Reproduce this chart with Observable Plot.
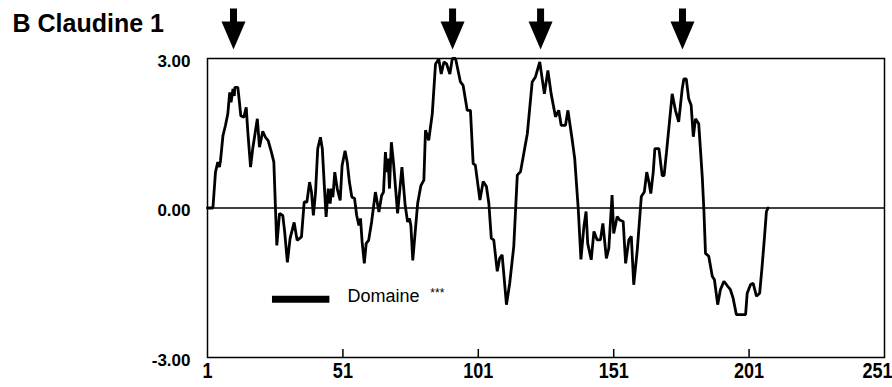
<!DOCTYPE html>
<html>
<head>
<meta charset="utf-8">
<script src="https://cdn.jsdelivr.net/npm/d3@7"></script>
<script src="https://cdn.jsdelivr.net/npm/@observablehq/plot@0.6"></script>
<style>
  html, body { margin: 0; padding: 0; background: white; }
</style>
</head>
<body>
<div id="chart"></div>
<script>
// ---- data ----
const titleText = "B Claudine 1";
const legendLabel = "Domaine";
const legendMark = "***";
const xTicks = [1, 51, 101, 151, 201, 251];
const yTicks = [-3, 0, 3];
const arrowResidues = [10.6, 91.5, 124.0, 176.4];

const residue = [
  1, 3, 3.95, 4.8, 5.4, 5.8, 6.7, 7.6, 8.5, 9.2, 9.7, 10.4, 10.9, 11.1, 12.2, 12.8, 13.3, 14.4, 15.3, 15.9,
  16.9, 17.7, 19.4, 20.2, 21.4, 22.4, 23.4, 24.6, 25.5, 26.1, 26.6, 27.6, 28.8, 29.5, 30.5, 31.5, 33.0, 34.1, 35.7,
  36.7, 37.7, 38.7, 39.4, 40.1, 40.9, 41.7, 42.7, 43.4, 44.2, 44.8, 45.6, 46.3, 46.8, 47.3, 48.0, 48.9, 50.0,
  50.7, 51.8, 52.6, 53.4, 54.3, 55.3, 56.1, 56.9, 57.5, 58.1, 58.9, 59.6, 60.5, 61.6, 63.0, 64.3, 65.3, 66.0,
  66.7, 67.2, 67.7, 68.2, 68.9, 69.7, 71.2, 72.8, 74.0, 74.9, 75.6, 76.1, 76.8, 77.7, 78.6, 79.8, 80.9, 81.5,
  82.7, 84.0, 85.2, 86.4, 87.3, 88.3, 89.3, 90.5, 91.4, 92.6, 94.4, 95.4, 96.9, 98.1, 99.1, 99.9, 101.6, 102.8,
  104.0, 104.9, 105.8, 106.7, 108.0, 108.9, 109.8, 111.4, 112.6, 114.1, 115.4, 116.6, 119.1, 120.9, 122.1, 123.7,
  125.4, 126.7, 127.9, 129.5, 130.7, 131.6, 133.2, 134.1, 135.7, 136.6, 137.9, 138.9, 140.0, 140.8, 141.4, 142.7,
  143.7, 144.9, 146.1, 147.0, 148.3, 149.2, 150.4, 151.0, 152.3, 153.2, 154.5, 155.4, 156.6, 157.5, 158.4, 159.7,
  161.2, 162.3, 163.2, 164.0, 164.7, 165.6, 166.2, 167.7, 168.9, 169.6, 170.5, 172.6, 173.8, 175.0, 176.3, 176.9,
  177.8, 178.7, 179.6, 180.4, 181.2, 182.4, 183.7, 184.3, 184.9, 186.1, 187.4, 188.2, 189.4, 190.4, 191.7, 193.1,
  194.1, 195.1, 196.3, 199.7, 200.3, 201.5, 202.5, 203.7, 204.9, 205.8, 206.7, 207.4, 208.0
];
const hydropathy = [
  0, 0, 0.72, 0.92, 0.82, 0.95, 1.45, 1.65, 1.89, 2.32, 2.12, 2.39, 2.25, 2.42, 2.42, 2.12, 1.85, 1.82, 2.02, 1.52,
  0.82, 1.19, 1.79, 1.22, 1.54, 1.42, 1.35, 1.12, 0.92, -0.01, -0.75, -0.11, -0.15, -0.48, -1.09, -0.61, -0.29, -0.65, -0.58,
  0.12, 0.12, 0.52, 0.32, -0.15, 0.32, 1.19, 1.42, 1.19, 0.39, -0.18, 0.39, 0.09, 0.39, 0.22, 0.72, 0.39, 0.15,
  0.85, 1.15, 0.92, 0.52, 0.22, 0.19, -0.15, -0.35, -0.21, -0.68, -1.11, -0.71, -0.65, -0.28, 0.32, -0.08, 0.25, 0.32,
  1.12, 0.72, 0.99, 0.39, 1.32, 0.9, -0.11, 0.82, 0.05, -0.28, -0.21, -0.35, -1.05, -0.48, 0.09, 0.45, 0.56, 1.56,
  1.36, 1.89, 2.89, 2.99, 2.69, 2.93, 2.89, 2.69, 3.0, 3.0, 2.53, 2.46, 1.96, 1.96, 0.89, 0.86, 0.16, 0.53,
  0.43, 0.09, -0.61, -0.64, -1.27, -1.01, -0.94, -1.94, -1.51, -0.77, 0.66, 0.73, 1.49, 2.53, 2.63, 2.93,
  2.29, 2.76, 2.29, 1.83, 1.96, 1.66, 1.66, 1.96, 1.36, 0.99, -0.01, -1.03, -0.37, -0.07, -0.71, -1.04,
  -0.47, -0.64, -0.64, -0.31, -1.01, -0.81, 0.26, -0.51, -0.17, -0.24, -0.27, -1.11, -0.64, -0.57, -1.54, -0.84,
  0.23, 0.32, 0.72, 0.52, 0.29, 0.72, 1.19, 1.19, 0.65, 0.65, 1.12, 2.29, 1.96, 1.73, 2.39, 2.59,
  2.59, 2.19, 2.06, 1.43, 1.79, 1.69, 0.63, -0.04, -0.91, -0.97, -1.37, -1.44, -1.94, -1.64, -1.47, -1.57,
  -1.64, -1.81, -2.14, -2.14, -1.71, -1.54, -1.51, -1.77, -1.71, -1.17, -0.57, -0.07, 0
];

const profile = residue.map((r, i) => ({residue: r, value: hydropathy[i]}));

// downward block arrow symbol
const arrowSymbol = {
  draw(ctx) {
    ctx.moveTo(-3.5, -20.5);
    ctx.lineTo(3.5, -20.5);
    ctx.lineTo(3.5, -7.5);
    ctx.lineTo(12, -7.5);
    ctx.lineTo(0, 20.5);
    ctx.lineTo(-12, -7.5);
    ctx.lineTo(-3.5, -7.5);
    ctx.closePath();
  }
};

const chart = Plot.plot({
  width: 892,
  height: 387,
  marginLeft: 207,
  marginRight: 8,
  marginTop: 58,
  marginBottom: 30,
  x: {domain: [1, 251]},
  y: {domain: [-3, 3]},
  style: {fontFamily: "'Liberation Sans', Arial, sans-serif", color: "black", background: "white", overflow: "visible"},
  marks: [
    Plot.frame({stroke: "black", strokeWidth: 1.5}),
    Plot.ruleY([0], {stroke: "black", strokeWidth: 1.5}),
    Plot.ruleX(xTicks.slice(1, -1), {y1: -3, y2: -2.84, stroke: "black", strokeWidth: 1.5}),
    Plot.axisY({
      ticks: yTicks, tickFormat: d => d.toFixed(2), tickSize: 0, tickPadding: 17, label: null,
      fontSize: 17, fontWeight: "bold", dy: 3
    }),
    Plot.axisX({
      ticks: xTicks, tickFormat: d => String(d), tickSize: 0, tickPadding: 5, label: null,
      fontSize: 22, fontWeight: "bold",
      fontFamily: "'Liberation Sans Narrow', 'Arial Narrow', 'Liberation Sans', sans-serif"
    }),
    Plot.line(profile, {x: "residue", y: "value", stroke: "black", strokeWidth: 2.8, strokeLinejoin: "miter"}),
    Plot.dot(arrowResidues, {x: d => d, y: d => 3.59, symbol: arrowSymbol, fill: "black", stroke: "none"}),
    Plot.ruleY([-1.83], {x1: 25, x2: 46.2, stroke: "black", strokeWidth: 7}),
    Plot.text([legendLabel], {x: d => 52.7, y: d => -1.78, text: d => d, textAnchor: "start", lineAnchor: "middle", fontSize: 18}),
    Plot.text([legendMark], {x: d => 83.3, y: d => -1.71, text: d => d, textAnchor: "start", lineAnchor: "middle", fontSize: 12}),
    Plot.text([titleText], {
      frameAnchor: "top-left", dx: -195, dy: -27, text: d => d, textAnchor: "start", lineAnchor: "bottom",
      fontSize: 25, fontWeight: "bold"
    })
  ]
});

// condense the x tick labels (tall, narrow figures as in the reference)
d3.select(chart).selectAll("g[aria-label='x-axis tick label'] text").each(function(d, i, nodes) {
  const t = d3.select(this);
  const tr = t.attr("transform") || "";
  const shift = i === nodes.length - 1 ? " translate(-7,0)" : "";
  t.attr("transform", tr + shift + " scale(0.82,1)");
});

document.getElementById("chart").appendChild(chart);
</script>
</body>
</html>
